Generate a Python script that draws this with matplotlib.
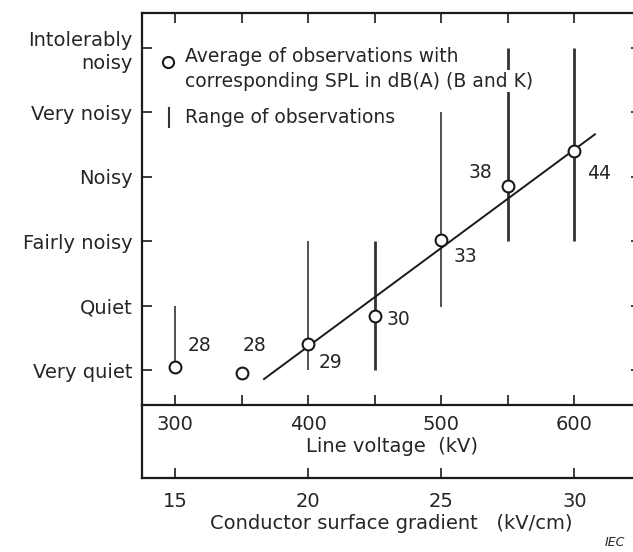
import numpy as np
import matplotlib.pyplot as plt

# noise levels (1 = very quiet ... 6 = intolerably noisy)
levels = [1, 2, 3, 4, 5, 6]
level_names = ["Very quiet", "Quiet", "Fairly noisy", "Noisy", "Very noisy",
               "Intolerably\nnoisy"]

# average observations
voltage = [300, 350, 400, 450, 500, 550, 600]
avg_level = [1.05, 0.96, 1.40, 1.84, 3.02, 3.86, 4.40]
spl = ["28", "28", "29", "30", "33", "38", "44"]

# range of observations (voltage, low, high, thick)
rng_volt = [300, 400, 450, 500, 550, 600]
rng_low = [1.05, 1.0, 1.0, 1.98, 3.0, 3.0]
rng_high = [2.0, 3.0, 3.0, 5.0, 6.0, 6.0]
rng_thick = [False, False, True, False, True, True]

# fitted trend line
fit_volt = [366.7, 615.4]
fit_level = [0.86, 4.66]

volt_ticks = [300, 400, 500, 600]
volt_minor = [350, 450, 550]
grad_ticks = [15, 20, 25, 30]

# label offsets in pixels
lab_off = [(24, 21), (13, 27), (22, -18), (24, -4), (24, -17), (-27, 13), (25, -22)]

tc = "#262626"
plt.rcParams["font.family"] = "DejaVu Sans"
plt.rcParams["text.color"] = tc

fig = plt.figure(figsize=(6.33, 5.52), dpi=100)
ax = fig.add_axes([142 / 633, 1 - 405 / 552, 499 / 633, 392 / 552])
ax2 = fig.add_axes([142 / 633, 1 - 478 / 552, 499 / 633, 73 / 552])

ax.set_xlim(275, 650)
ax.set_ylim(0.457, 6.543)

for v, lo, hi, th in zip(rng_volt, rng_low, rng_high, rng_thick):
    ax.plot([v, v], [lo, hi], color="#333333", lw=2.0 if th else 1.2,
            solid_capstyle="butt", zorder=2)

ax.plot(fit_volt, fit_level, color="#1a1a1a", lw=1.4, zorder=3)
ax.plot(voltage, avg_level, "o", ms=8.5, mfc="white", mec="#1a1a1a",
        mew=1.5, zorder=4)

for v, l, s, off in zip(voltage, avg_level, spl, lab_off):
    ax.annotate(s, (v, l), xytext=off, textcoords="offset pixels",
                ha="center", va="center", fontsize=13.5, color=tc)

# legend drawn by hand
ax.plot([0.052], [0.875], "o", ms=8, mfc="white", mec="#1a1a1a", mew=1.5,
        transform=ax.transAxes, clip_on=False)
ax.text(0.086, 0.888, "Average of observations with", transform=ax.transAxes,
        fontsize=13.5, va="center", ha="left")
ax.text(0.086, 0.826, "corresponding SPL in dB(A) (B and K)",
        transform=ax.transAxes, fontsize=13.5, va="center", ha="left",
        bbox=dict(facecolor="white", edgecolor="none", pad=1), zorder=5)
ax.plot([0.054, 0.054], [0.709, 0.758], color="#333333", lw=1.5,
        transform=ax.transAxes)
ax.text(0.086, 0.733, "Range of observations", transform=ax.transAxes,
        fontsize=13.5, va="center", ha="left")

ax.set_yticks(levels)
ax.set_yticklabels(level_names, fontsize=14, color=tc, linespacing=1.3)
ax.set_xticks(volt_ticks)
ax.set_xticklabels([str(v) for v in volt_ticks], fontsize=14, color=tc)
ax.set_xticks(volt_minor, minor=True)
ax.tick_params(which="both", direction="in", length=7, width=1.2,
               top=True, right=True, color="#1a1a1a")
ax.tick_params(axis="y", pad=7)
ax.tick_params(axis="x", pad=7)
ax.set_xlabel("Line voltage  (kV)", fontsize=14, color=tc, labelpad=2)
for sp in ax.spines.values():
    sp.set_linewidth(1.6)
    sp.set_color("#1a1a1a")
ax.spines["right"].set_visible(False)

ax2.set_xlim(275 / 20, 650 / 20)
ax2.set_ylim(0, 1)
ax2.set_yticks([])
ax2.set_xticks(grad_ticks)
ax2.set_xticklabels([str(g) for g in grad_ticks], fontsize=14, color=tc)
ax2.tick_params(direction="in", length=7, width=1.2, pad=10, color="#1a1a1a")
ax2.spines["top"].set_visible(False)
ax2.spines["right"].set_visible(False)
ax2.set_xlabel("Conductor surface gradient   (kV/cm)", fontsize=14,
               color=tc, labelpad=2)
for sp in ax2.spines.values():
    sp.set_linewidth(1.6)
    sp.set_color("#1a1a1a")
ax2.patch.set_alpha(0)

fig.text(615 / 633, 1 - 543 / 552, "IEC", fontsize=9, style="italic",
         ha="center", va="center", color=tc)

fig.savefig("out.png", dpi=100)
